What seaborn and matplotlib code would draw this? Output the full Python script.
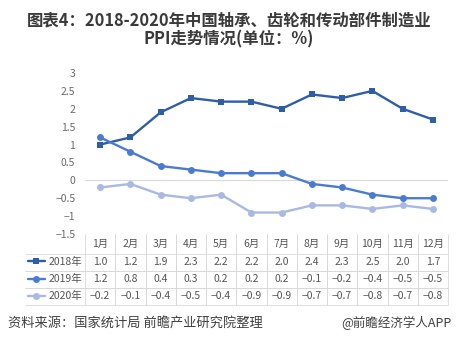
import numpy as np
import pandas as pd
import seaborn as sns
import matplotlib.pyplot as plt
from matplotlib.lines import Line2D
from matplotlib.table import Table

months = [f"{i}月" for i in range(1, 13)]
years = ["2018年", "2019年", "2020年"]
ppi_2018 = [1.0, 1.2, 1.9, 2.3, 2.2, 2.2, 2.0, 2.4, 2.3, 2.5, 2.0, 1.7]
ppi_2019 = [1.2, 0.8, 0.4, 0.3, 0.2, 0.2, 0.2, -0.1, -0.2, -0.4, -0.5, -0.5]
ppi_2020 = [-0.2, -0.1, -0.4, -0.5, -0.4, -0.9, -0.9, -0.7, -0.7, -0.8, -0.7, -0.8]
yticks = [-1.5, -1, -0.5, 0, 0.5, 1, 1.5, 2, 2.5, 3]

colors = ["#2f5ea8", "#4a7bd0", "#aab9e2"]
markers = ["s", "o", "o"]

sns.set_style("white")
plt.rcParams['font.family'] = ['Noto Sans CJK SC', 'DejaVu Sans']

series = [ppi_2018, ppi_2019, ppi_2020]
df = pd.DataFrame({
    "idx": list(range(12)) * 3,
    "year": [y for y in years for _ in range(12)],
    "ppi": ppi_2018 + ppi_2019 + ppi_2020,
})

W, H = 458, 351
fig = plt.figure(figsize=(W / 100, H / 100), dpi=100)
ax = fig.add_axes([85 / W, 1 - 234 / H, 363 / W, 161 / H])

ax.axhline(0, color="#d9d9d9", lw=0.8, zorder=0)
sns.lineplot(data=df, x="idx", y="ppi", hue="year", style="year",
             palette=dict(zip(years, colors)),
             markers=dict(zip(years, markers)), dashes=False,
             markersize=5, markeredgewidth=0, linewidth=1.7,
             legend=False, ax=ax)

ax.set_xlim(-0.5, 11.5)
ax.set_ylim(-1.5, 3)
ax.set_xticks([])
ax.set_yticks(yticks)
ax.set_yticklabels([f"{v:g}".replace("-", "−") for v in yticks])
ax.tick_params(axis="y", length=0, pad=7, labelsize=7.5, labelcolor="#6a6a6a")
ax.set_xlabel("")
ax.set_ylabel("")
for s in ax.spines.values():
    s.set_visible(False)

# data table under the plot
bbox = [(25 - 85) / 363, (234 - 305) / 161, (448 - 25) / 363, (305 - 234) / 161]
tb = Table(ax, bbox=bbox)
edge = "#d9d9d9"
w0, w = 60, 30.25
for j, m in enumerate(months):
    c = tb.add_cell(0, j + 1, width=w, height=1.15, text=m, loc="center",
                    edgecolor=edge, facecolor="none")
    c.visible_edges = "LR"
for i, (yr, vals) in enumerate(zip(years, series)):
    c = tb.add_cell(i + 1, 0, width=w0, height=1, text=yr, loc="right",
                    edgecolor=edge, facecolor="none")
    c.visible_edges = "TB"
    c.PAD = 0.04
    for j, v in enumerate(vals):
        tb.add_cell(i + 1, j + 1, width=w, height=1, text=f"{v:.1f}".replace("-", "−"),
                    loc="center", edgecolor=edge, facecolor="none")
tb.auto_set_font_size(False)
tb.set_fontsize(7.5)
for cell in tb.get_celld().values():
    cell.set_linewidth(0.6)
    cell.get_text().set_color("#555555")
ax.add_table(tb)

# legend keys inside the table
row_h = 17.5
for i, (col, mk) in enumerate(zip(colors, markers)):
    yc = (234 - (252.5 + row_h * (i + 0.5))) / 161
    x0, x1 = (28 - 85) / 363, (45 - 85) / 363
    ax.add_line(Line2D([x0, x1], [yc, yc], transform=ax.transAxes, color=col,
                       lw=1.7, clip_on=False))
    ax.add_line(Line2D([(x0 + x1) / 2], [yc], transform=ax.transAxes, color=col,
                       marker=mk, markersize=5, markeredgewidth=0, clip_on=False))

fig.text(0.5, 1 - 20 / H, "图表4：2018-2020年中国轴承、齿轮和传动部件制造业",
         ha="center", va="center", fontsize=11.8, fontweight="bold", color="#3a3a3a")
fig.text(0.5, 1 - 39 / H, "PPI走势情况(单位：%)",
         ha="center", va="center", fontsize=11.8, fontweight="bold", color="#3a3a3a")
fig.text(8 / W, 1 - 323 / H, "资料来源：国家统计局 前瞻产业研究院整理",
         ha="left", va="center", fontsize=9.5, color="#404040")
fig.text(452 / W, 1 - 323 / H, "@前瞻经济学人APP",
         ha="right", va="center", fontsize=9, color="#404040")

fig.savefig("out.png", dpi=100)
